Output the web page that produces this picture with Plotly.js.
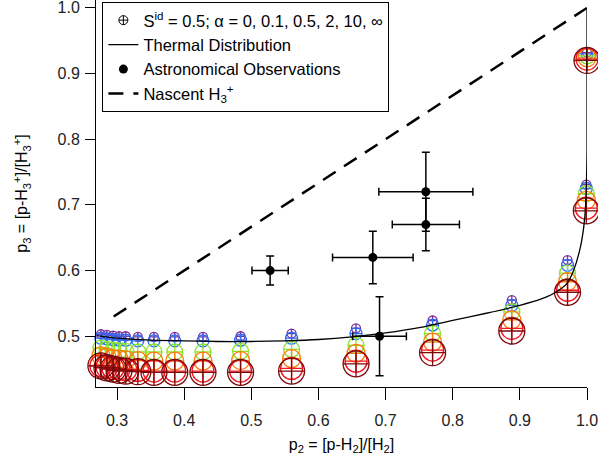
<!DOCTYPE html>
<html>
<head>
<meta charset="utf-8">
<script src="https://cdn.plot.ly/plotly-3.0.1.min.js"></script>
<style>html,body{margin:0;padding:0;background:#fff;}#chart{width:598px;height:455px;}</style>
</head>
<body>
<div id="chart"></div>
<script>
// Simulation: p2 positions
const p2Sim = [0.276, 0.285, 0.294, 0.303, 0.313, 0.331, 0.355, 0.386, 0.428, 0.484, 0.560, 0.656, 0.770, 0.888, 0.971, 0.999, 1.000];
const alphaLabels = ['0', '0.1', '0.5', '2', '10', '∞'];
const p3Alpha0   = [0.503, 0.502, 0.501, 0.500, 0.500, 0.499, 0.499, 0.499, 0.499, 0.500, 0.504, 0.512, 0.524, 0.555, 0.616, 0.731, 0.932];
const p3Alpha01  = [0.497, 0.496, 0.495, 0.494, 0.494, 0.493, 0.493, 0.493, 0.493, 0.494, 0.497, 0.504, 0.517, 0.547, 0.608, 0.725, 0.930];
const p3Alpha05  = [0.482, 0.480, 0.479, 0.478, 0.477, 0.476, 0.476, 0.476, 0.476, 0.477, 0.480, 0.486, 0.504, 0.537, 0.596, 0.717, 0.927];
const p3Alpha2   = [0.470, 0.468, 0.466, 0.465, 0.464, 0.463, 0.462, 0.462, 0.462, 0.463, 0.466, 0.474, 0.491, 0.525, 0.583, 0.707, 0.924];
const p3Alpha10  = [0.455, 0.453, 0.451, 0.450, 0.449, 0.448, 0.447, 0.447, 0.447, 0.447, 0.451, 0.462, 0.479, 0.512, 0.570, 0.695, 0.922];
const p3AlphaInf = [0.455, 0.452, 0.450, 0.448, 0.447, 0.446, 0.445, 0.445, 0.445, 0.445, 0.447, 0.458, 0.475, 0.508, 0.567, 0.691, 0.920];

// Thermal distribution curve
const thermalX = [0.27, 0.30, 0.35, 0.40, 0.45, 0.50, 0.55, 0.60, 0.65, 0.70, 0.75, 0.80, 0.85, 0.90, 0.93, 0.95, 0.97, 0.98, 0.99, 0.995, 0.998, 1.0, 1.0];
const thermalY = [0.501, 0.497, 0.494, 0.493, 0.492, 0.492, 0.493, 0.495, 0.499, 0.505, 0.513, 0.524, 0.535, 0.547, 0.556, 0.565, 0.580, 0.600, 0.635, 0.665, 0.700, 0.780, 1.0];

// Astronomical observations
const obsX    = [0.528, 0.681, 0.760, 0.760, 0.691];
const obsY    = [0.600, 0.620, 0.720, 0.670, 0.500];
const obsXErr = [0.027, 0.060, 0.070, 0.050, 0.040];
const obsYErr = [0.022, 0.040, 0.060, 0.040, 0.060];

// Nascent H3+
const nascentX = [0.295, 1.0];
const nascentY = [0.530, 1.0];

// Tick labels
const xTicks = [0.3, 0.4, 0.5, 0.6, 0.7, 0.8, 0.9, 1.0];
const xTickText = ['0.3', '0.4', '0.5', '0.6', '0.7', '0.8', '0.9', '1.0'];
const yTicks = [0.5, 0.6, 0.7, 0.8, 0.9, 1.0];
const yTickText = ['0.5', '0.6', '0.7', '0.8', '0.9', '1.0'];

const simSeries = [p3Alpha0, p3Alpha01, p3Alpha05, p3Alpha2, p3Alpha10, p3AlphaInf];
const simColors = ['#7a2e96', '#2d6cf5', '#86e62a', '#ff7a0a', '#f5141e', '#7a0a0a'];
const simSizes = [9, 12, 16, 18, 22, 26];

const FONT = 'Liberation Sans, Arial, sans-serif';

const traces = [];
traces.push({
  x: [null], y: [null], type: 'scatter', mode: 'markers',
  name: 'S<sup>id</sup> = 0.5; α = 0, 0.1, 0.5, 2, 10, ∞',
  marker: {symbol: 'circle-cross-open', size: 9, color: '#000', line: {width: 1}},
  showlegend: true
});
simSeries.forEach((ys, i) => {
  traces.push({
    x: p2Sim, y: ys, type: 'scatter', mode: 'markers',
    name: 'α = ' + alphaLabels[i], showlegend: false, cliponaxis: false,
    marker: {symbol: 'circle-cross-open', size: simSizes[i], color: simColors[i], line: {width: 1.3, color: simColors[i]}}
  });
});
traces.push({
  x: thermalX, y: thermalY, type: 'scatter', mode: 'lines',
  name: 'Thermal Distribution', line: {color: '#000', width: 1.3, shape: 'spline', smoothing: 0.6},
  cliponaxis: false
});
traces.push({
  x: obsX, y: obsY, type: 'scatter', mode: 'markers',
  name: 'Astronomical Observations',
  marker: {symbol: 'circle', size: 9, color: '#000'},
  error_x: {type: 'data', array: obsXErr, color: '#000', thickness: 1.5, width: 4},
  error_y: {type: 'data', array: obsYErr, color: '#000', thickness: 1.5, width: 4}
});
traces.push({
  x: nascentX, y: nascentY, type: 'scatter', mode: 'lines',
  name: 'Nascent H<sub>3</sub><sup>+</sup>',
  line: {color: '#000', width: 2.5, dash: '15px,10px'}
});

const layout = {
  width: 598, height: 455,
  margin: {l: 96, r: 11, t: 0, b: 68},
  paper_bgcolor: '#fff', plot_bgcolor: '#fff',
  font: {family: FONT, size: 16, color: '#000'},
  showlegend: true,
  legend: {
    x: 0.013, y: 0.995, xanchor: 'left', yanchor: 'top',
    bgcolor: '#fff', bordercolor: '#000', borderwidth: 1,
    font: {family: FONT, size: 16.5, color: '#000'},
    tracegroupgap: 0
  },
  xaxis: {
    range: [0.2687, 1.0],
    tickvals: xTicks, ticktext: xTickText,
    showline: true, linecolor: '#000', linewidth: 1,
    ticks: 'outside', ticklen: 12, tickcolor: '#000', tickwidth: 1,
    ticklabelstandoff: 7, ticklabeloverflow: 'allow',
    showgrid: false, zeroline: false,
    tickfont: {family: FONT, size: 16, color: '#222'},
    title: {text: 'p<sub>2</sub> = [p-H<sub>2</sub>]/[H<sub>2</sub>]', font: {family: FONT, size: 16, color: '#000'}, standoff: 10}
  },
  yaxis: {
    range: [0.4227, 1.012],
    tickvals: yTicks, ticktext: yTickText,
    showline: true, linecolor: '#000', linewidth: 1,
    ticks: 'outside', ticklen: 10, tickcolor: '#000', tickwidth: 1,
    ticklabelstandoff: 2, ticklabeloverflow: 'allow',
    showgrid: false, zeroline: false,
    tickfont: {family: FONT, size: 16, color: '#222'},
    title: {text: 'p<sub>3</sub> = [p-H<sub>3</sub><sup>+</sup>]/[H<sub>3</sub><sup>+</sup>]', font: {family: FONT, size: 16, color: '#000'}, standoff: 25}
  }
};

Plotly.newPlot('chart', traces, layout, {staticPlot: true, displayModeBar: false});
</script>
</body>
</html>
